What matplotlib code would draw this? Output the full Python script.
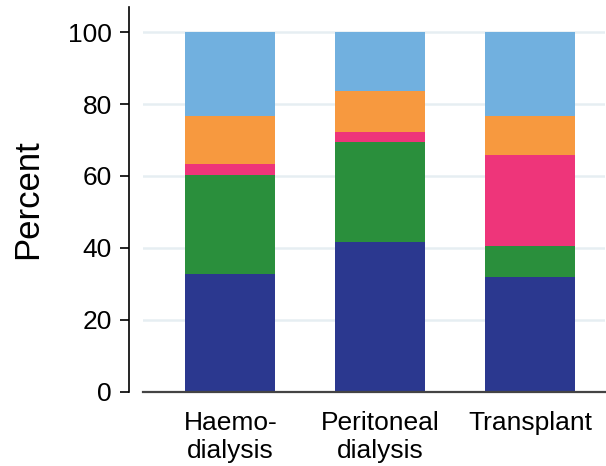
import numpy as np
import matplotlib
matplotlib.use("Agg")
import matplotlib.pyplot as plt

plt.rcParams['font.family'] = ['Liberation Sans', 'DejaVu Sans']

# modalities and stacked shares (percent), bottom to top
categories = ["Haemo-\ndialysis", "Peritoneal\ndialysis", "Transplant"]
seg1 = [32.7, 41.7, 31.9]   # dark blue
seg2 = [27.6, 27.7, 8.6]    # green
seg3 = [3.1, 2.9, 25.4]     # pink
seg4 = [13.4, 11.2, 10.9]   # orange
seg5 = [23.2, 16.5, 23.2]   # light blue

colors = ["#2b388f", "#2a8f3c", "#ee357a", "#f7993f", "#71b0df"]
y_ticks = [0, 20, 40, 60, 80, 100]

fig = plt.figure(figsize=(6.06, 4.66), dpi=100)
ax = fig.add_axes([143 / 606, 1 - 391.7 / 466, 462 / 606, (391.7 - 7) / 466])

x = np.arange(len(categories))
bottom = np.zeros(len(categories))
for vals, col in zip([seg1, seg2, seg3, seg4, seg5], colors):
    ax.bar(x, vals, width=0.6, bottom=bottom, color=col, zorder=3)
    bottom += np.array(vals)

# light horizontal grid
for yv in y_ticks[1:]:
    ax.axhline(yv, color="#e6eef2", lw=1.8, zorder=1)

ax.set_xlim(-0.583, 2.497)
ax.set_ylim(0, 107)
ax.set_yticks(y_ticks)
ax.set_xticks(x)
ax.set_xticklabels(categories, fontsize=19)
ax.tick_params(axis="x", length=0, pad=14)
ax.tick_params(axis="y", labelsize=19, length=6.5, width=1.2, pad=6)
ax.set_ylabel("Percent", fontsize=25, labelpad=17)

ax.spines["top"].set_visible(False)
ax.spines["right"].set_visible(False)
ax.spines["left"].set_position(("outward", 10))
ax.spines["left"].set_linewidth(1.2)
ax.spines["bottom"].set_color("#444444")
ax.spines["bottom"].set_linewidth(1.6)
ax.spines["bottom"].set_zorder(4)

fig.savefig("out.png", dpi=100)
